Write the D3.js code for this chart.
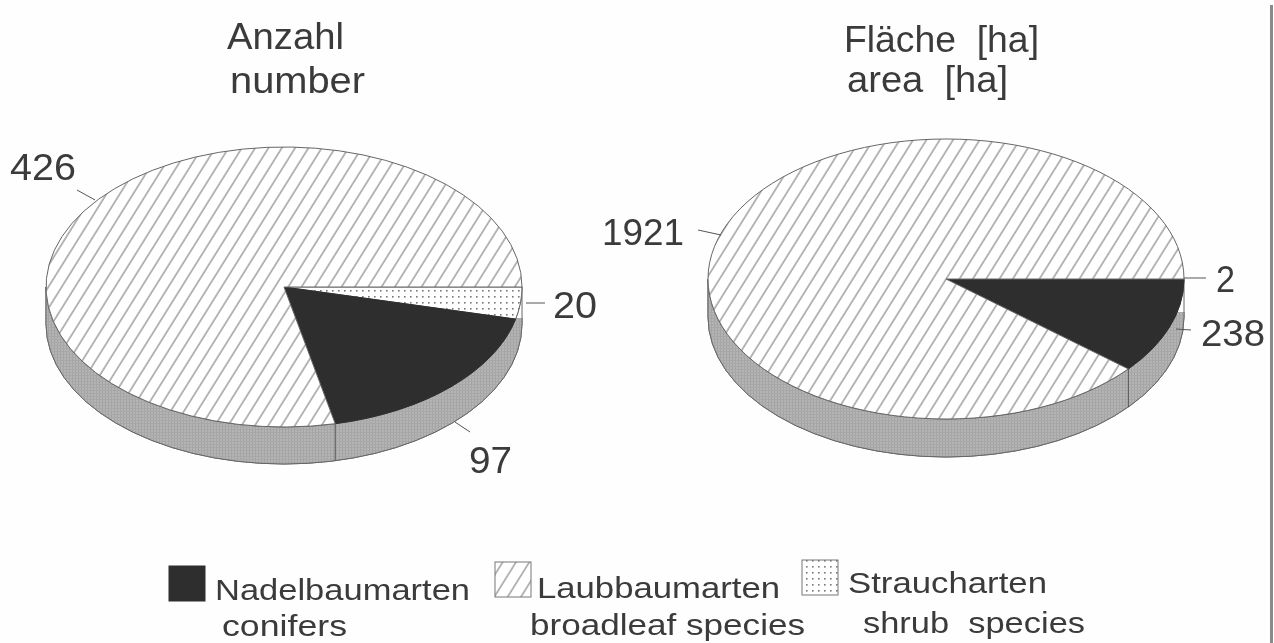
<!DOCTYPE html>
<html><head><meta charset="utf-8">
<script src="https://cdn.jsdelivr.net/npm/d3@7"></script>
<style>html,body{margin:0;padding:0;background:#fff;overflow:hidden}text{font-family:"Liberation Sans",Arial,sans-serif;fill:#3a3a3a}</style>
</head><body><svg id="c" width="1274" height="643"></svg>
<script>
const seriesNames = ["Straucharten","Nadelbaumarten","Laubbaumarten"];
const numberValues = [20, 97, 426];
const areaValues = [2, 238, 1921];
const numberTitle = [["Anzahl",227,49,117],["number",230,93,135]];
const areaTitle = [["Fläche  [ha]",844,52,195],["area  [ha]",847,92,161]];
const dataLabels = [["426",10,180,66],["20",553,318,44],["97",469,473,43],["1921",602,245,82],["2",1216,292,19],["238",1201,346,64]];
const legendText = [["Nadelbaumarten",215,600,255],["conifers",222,636,125],["Laubbaumarten",537,598,243],["broadleaf species",530,635,275],["Straucharten",848,593,199],["shrub  species",863,633,222]];
const leaders = [[77,190,95,200],[526,303,545,303],[455,422,470,432],[698,230,721,235],[1184,278,1206,278],[1176,329,1191,330]];

const svg = d3.select("#c");
const defs = svg.append("defs");
defs.append("filter").attr("id","soft").attr("x",0).attr("y",0).attr("width",1).attr("height",1)
  .append("feGaussianBlur").attr("stdDeviation",0.6);
const hatch = defs.append("pattern").attr("id","hatch").attr("patternUnits","userSpaceOnUse")
  .attr("width",11.3).attr("height",11.3).attr("patternTransform","rotate(32)");
hatch.append("rect").attr("width",11.3).attr("height",11.3).attr("fill","#fff");
hatch.append("line").attr("x1",1).attr("x2",1).attr("y1",0).attr("y2",11.3).attr("stroke","#5f5f5f").attr("stroke-width",0.9);
const dots = defs.append("pattern").attr("id","dots").attr("patternUnits","userSpaceOnUse").attr("width",6).attr("height",6);
dots.append("rect").attr("width",6).attr("height",6).attr("fill","#fff");
dots.append("rect").attr("x",2).attr("y",2).attr("width",1.6).attr("height",1.6).attr("fill","#777");
const tex = defs.append("pattern").attr("id","tex").attr("patternUnits","userSpaceOnUse").attr("width",3).attr("height",3);
tex.append("rect").attr("width",3).attr("height",3).attr("fill","#b4b4b4");
tex.append("rect").attr("width",1).attr("height",3).attr("fill","#a4a4a4");
tex.append("rect").attr("width",3).attr("height",1).attr("fill","#a8a8a8");

const root = svg.append("g").attr("filter","url(#soft)");
root.append("rect").attr("width",1274).attr("height",643).attr("fill","#fefefe");
root.append("rect").attr("x",1270).attr("y",5).attr("width",3).attr("height",638).attr("fill","#8a8a8a");

const fills = ["url(#dots)","#2e2e2e","url(#hatch)"];
const pieGen = d3.pie().sort(null).startAngle(Math.PI/2).endAngle(Math.PI*5/2);

function drawPie(values, cx, cy, rx, ry, depth, grayTop, id){
  const g = root.append("g");
  const X = d3.scaleLinear().domain([-1,1]).range([cx-rx,cx+rx]);
  const Y = d3.scaleLinear().domain([-1,1]).range([cy-ry,cy+ry]);
  const pt = a => [X(Math.cos(a-Math.PI/2)), Y(Math.sin(a-Math.PI/2))];
  const wall = `M${X(1)},${cy}L${X(1)},${cy+depth}A${rx},${ry} 0 0 1 ${X(-1)},${cy+depth}L${X(-1)},${cy}A${rx},${ry} 0 0 0 ${X(1)},${cy}Z`;
  g.append("path").attr("d",wall).attr("fill","#fff").attr("stroke","#666").attr("stroke-width",1);
  const clip = defs.append("clipPath").attr("id",id);
  clip.append("rect").attr("x",cx-rx-2).attr("y",cy).attr("width",rx+2).attr("height",ry+depth+20);
  clip.append("rect").attr("x",cx).attr("y",grayTop).attr("width",rx+2).attr("height",ry+depth+20);
  g.append("path").attr("d",wall).attr("fill","url(#tex)").attr("stroke","#666").attr("stroke-width",1).attr("clip-path",`url(#${id})`);
  const arcs = pieGen(values);
  g.selectAll("path.slice").data(arcs).join("path").attr("class","slice")
    .attr("d",d=>{
      const p0=pt(d.startAngle), p1=pt(d.endAngle), large=d.endAngle-d.startAngle>Math.PI?1:0;
      return `M${cx},${cy}L${p0}A${rx},${ry} 0 ${large} 1 ${p1}Z`;
    })
    .attr("fill",(d,i)=>fills[i]).attr("stroke",(d,i)=>i===1?"#2e2e2e":"#666").attr("stroke-width",1);
  const p = pt(arcs[1].endAngle);
  g.append("line").attr("x1",p[0]).attr("x2",p[0]).attr("y1",p[1]).attr("y2",p[1]+depth).attr("stroke","#555").attr("stroke-width",1);
}
drawPie(numberValues,284,287,238,140,37,318,"cl");
drawPie(areaValues,946,279,238,140,38,312,"cr");

root.selectAll("line.leader").data(leaders).join("line").attr("class","leader")
  .attr("x1",d=>d[0]).attr("y1",d=>d[1]).attr("x2",d=>d[2]).attr("y2",d=>d[3])
  .attr("stroke","#555").attr("stroke-width",1);

function texts(rows,size){
  root.selectAll(null).data(rows).join("text")
    .attr("x",d=>d[1]).attr("y",d=>d[2]).attr("font-size",size)
    .attr("textLength",d=>d[3]).attr("lengthAdjust","spacingAndGlyphs")
    .style("white-space","pre").text(d=>d[0]);
}
texts(numberTitle,36); texts(areaTitle,36); texts(dataLabels,36); texts(legendText,30);

const legendBoxes = [[169,566,"#2e2e2e"],[495,562,"url(#hatch)"],[802,560,"url(#dots)"]];
root.selectAll("rect.lg").data(legendBoxes).join("rect").attr("class","lg")
  .attr("x",d=>d[0]).attr("y",d=>d[1]).attr("width",36).attr("height",35)
  .attr("fill",d=>d[2]).attr("stroke",(d,i)=>i?"#777":"#2e2e2e").attr("stroke-width",1);
</script></body></html>
